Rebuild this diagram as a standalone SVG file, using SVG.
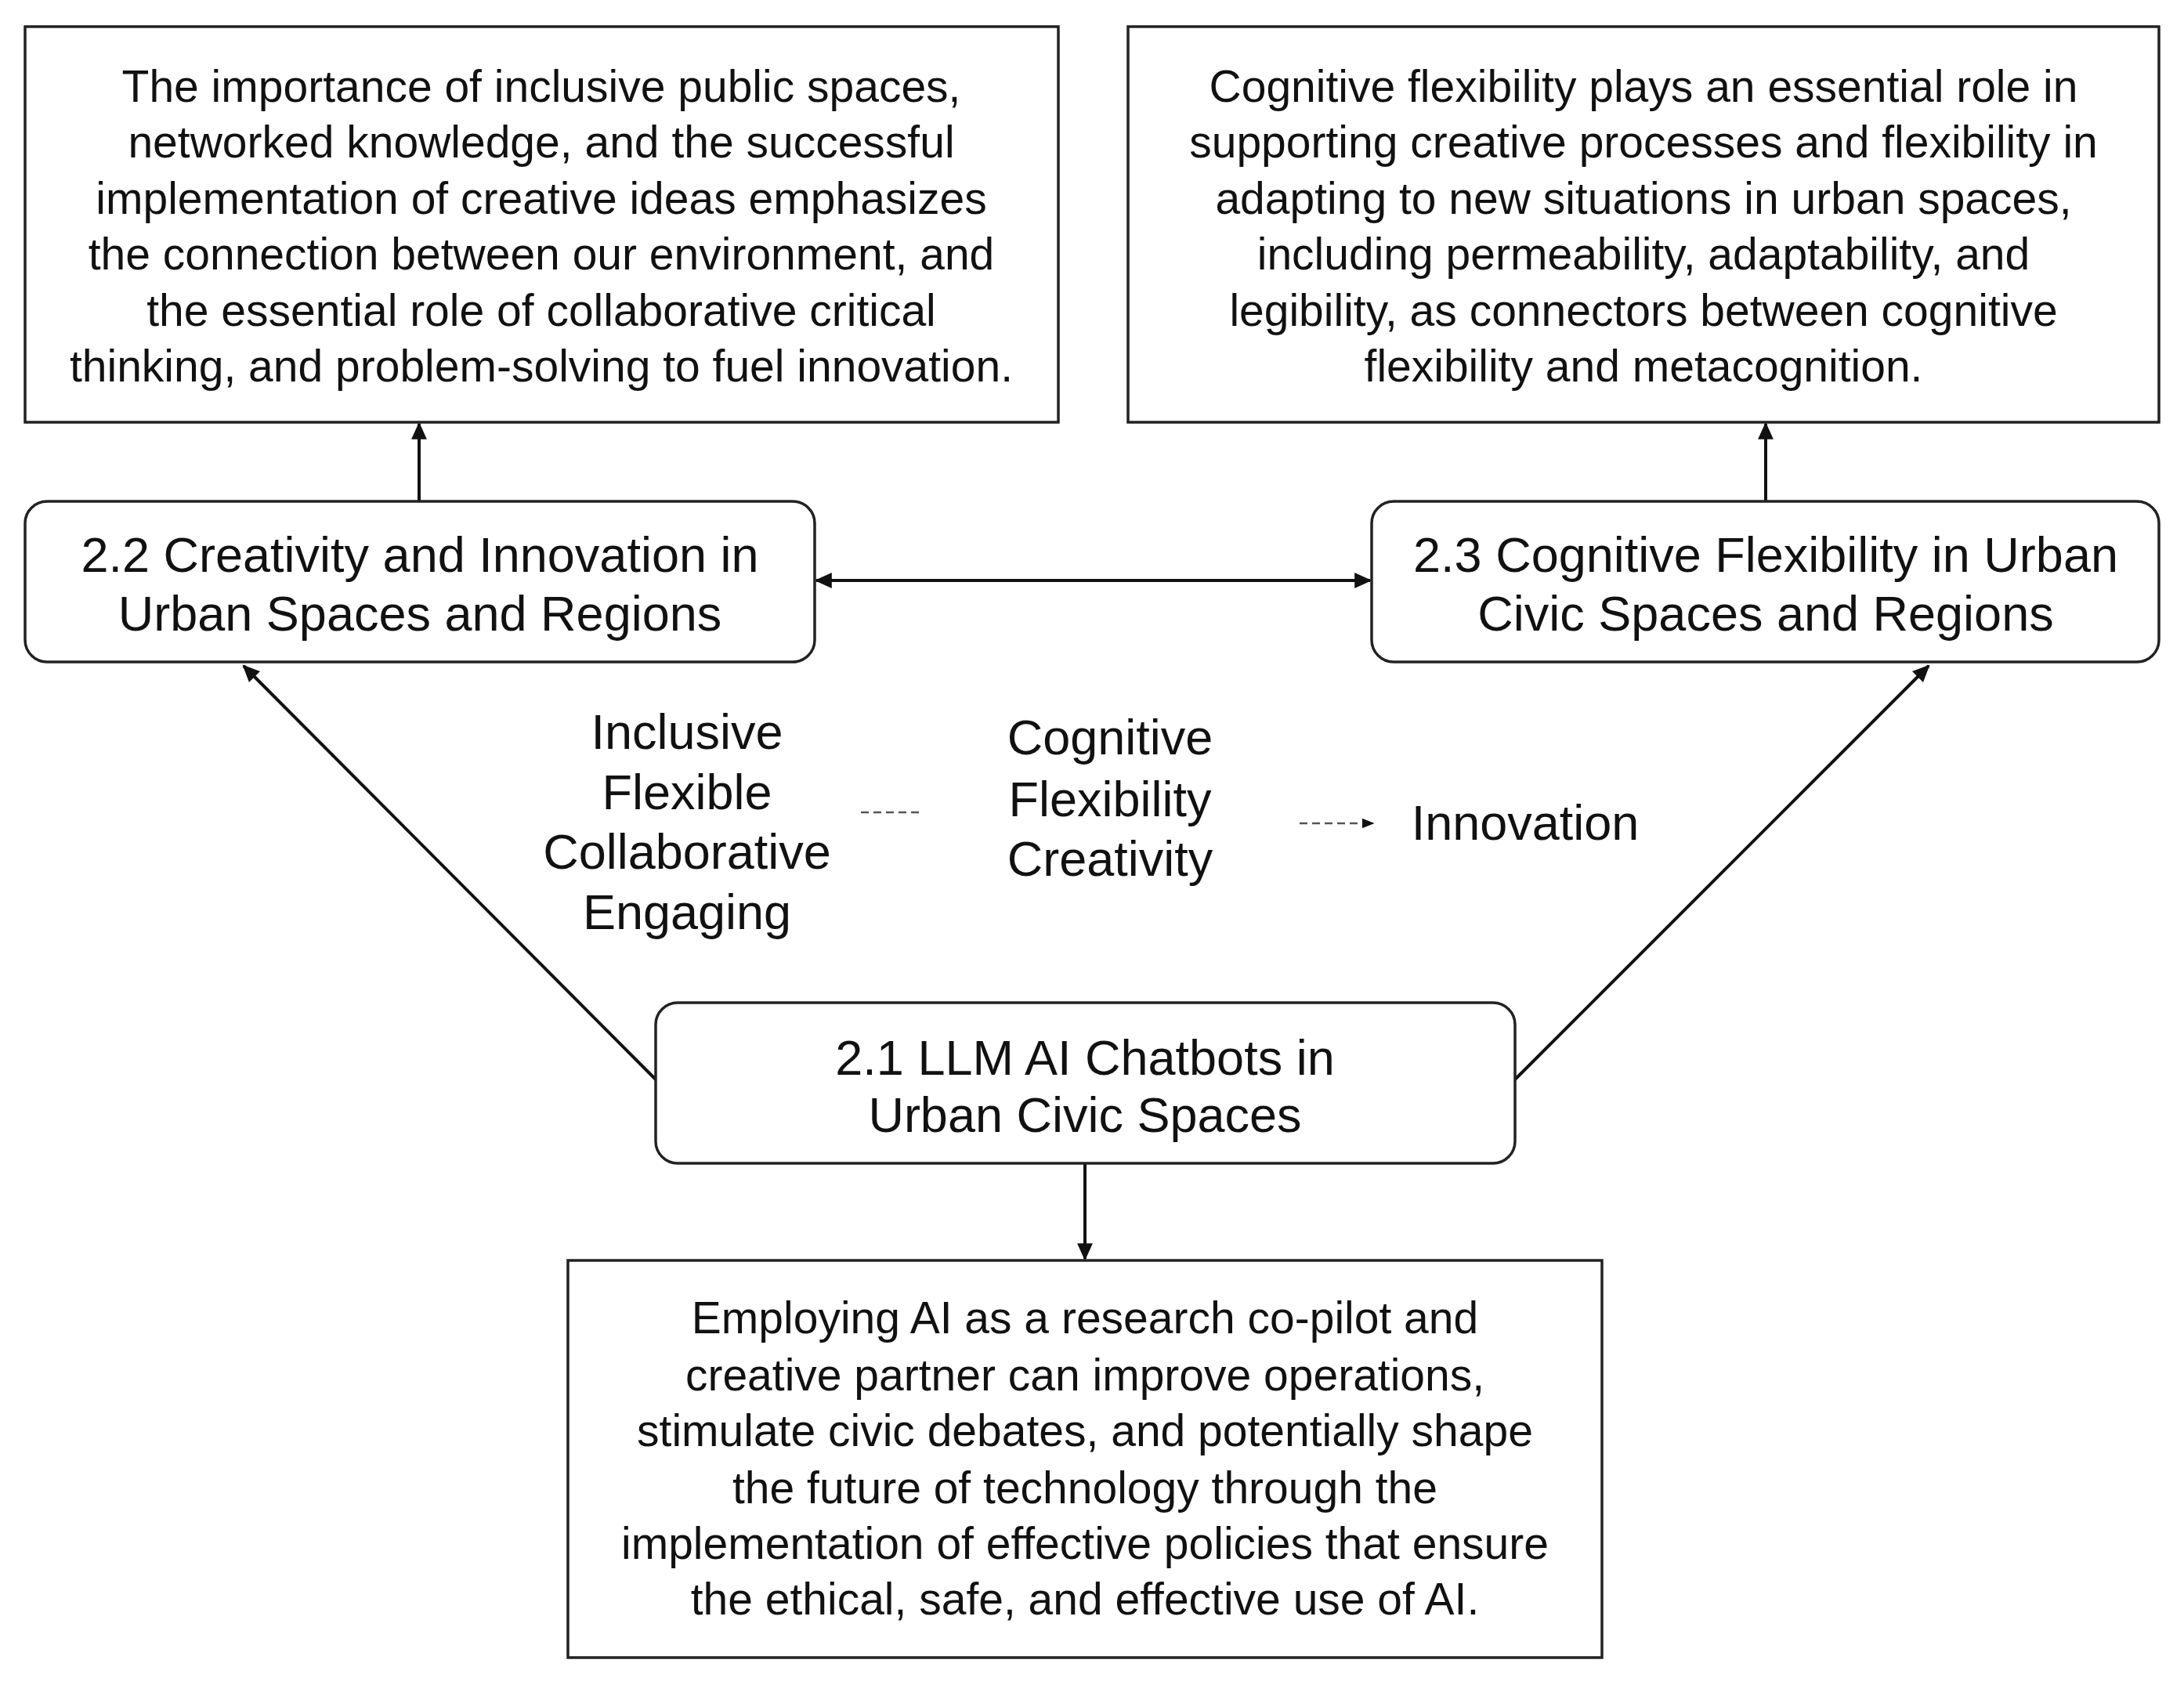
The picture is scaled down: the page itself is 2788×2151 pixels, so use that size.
<svg xmlns="http://www.w3.org/2000/svg" width="2788" height="2151" viewBox="0 0 2788 2151">
<style>
.b{fill:#fff;stroke:#222;stroke-width:3.5}
.t{font-family:"Liberation Sans",Arial,sans-serif;font-size:57px;fill:#111;text-anchor:middle}
.n{font-family:"Liberation Sans",Arial,sans-serif;font-size:63px;fill:#111;text-anchor:middle}
.c{stroke:#111;stroke-width:4;fill:none}
.d{stroke:#555;stroke-width:2.5;fill:none;stroke-dasharray:10 6}
</style>
<defs>
<marker id="a" viewBox="0 0 10 10" refX="9" refY="5" markerWidth="26" markerHeight="22" markerUnits="userSpaceOnUse" orient="auto-start-reverse"><path d="M0,0.5L10,5L0,9.5z" fill="#111"/></marker>
<marker id="s" viewBox="0 0 10 10" refX="9" refY="5" markerWidth="16" markerHeight="16" markerUnits="userSpaceOnUse" orient="auto"><path d="M0,1L10,5L0,9z" fill="#111"/></marker>
</defs>
<rect width="2788" height="2151" fill="#fff"/>
<g id="connectors">
<line class="c" x1="535" y1="640" x2="535" y2="541" marker-end="url(#a)"/>
<line class="c" x1="2254" y1="640" x2="2254" y2="541" marker-end="url(#a)"/>
<line class="c" x1="1042" y1="741" x2="1749" y2="741" marker-start="url(#a)" marker-end="url(#a)"/>
<line class="c" x1="837" y1="1378" x2="311" y2="850" marker-end="url(#a)"/>
<line class="c" x1="1934" y1="1378" x2="2462" y2="850" marker-end="url(#a)"/>
<line class="c" x1="1385" y1="1485" x2="1385" y2="1607" marker-end="url(#a)"/>
<line class="d" x1="1099" y1="1037" x2="1177" y2="1037"/>
<line class="d" x1="1659" y1="1051" x2="1753" y2="1051" marker-end="url(#s)"/>
</g>
<g id="box-tl"><rect class="b" x="32" y="34" width="1319" height="505"/>
<text class="t"><tspan x="691" y="130">The importance of inclusive public spaces,</tspan><tspan x="691" y="201">networked knowledge, and the successful</tspan><tspan x="691" y="273">implementation of creative ideas emphasizes</tspan><tspan x="691" y="344">the connection between our environment, and</tspan><tspan x="691" y="416">the essential role of collaborative critical</tspan><tspan x="691" y="487">thinking, and problem-solving to fuel innovation.</tspan></text></g>
<g id="box-tr"><rect class="b" x="1440" y="34" width="1316" height="505"/>
<text class="t"><tspan x="2098" y="130">Cognitive flexibility plays an essential role in</tspan><tspan x="2098" y="201">supporting creative processes and flexibility in</tspan><tspan x="2098" y="273">adapting to new situations in urban spaces,</tspan><tspan x="2098" y="344">including permeability, adaptability, and</tspan><tspan x="2098" y="416">legibility, as connectors between cognitive</tspan><tspan x="2098" y="487">flexibility and metacognition.</tspan></text></g>
<g id="node-22"><rect class="b" x="32" y="640" width="1008" height="205" rx="28"/>
<text class="n"><tspan x="536" y="730">2.2 Creativity and Innovation in</tspan><tspan x="536" y="805">Urban Spaces and Regions</tspan></text></g>
<g id="node-23"><rect class="b" x="1751" y="640" width="1005" height="205" rx="28"/>
<text class="n"><tspan x="2254" y="730">2.3 Cognitive Flexibility in Urban</tspan><tspan x="2254" y="805">Civic Spaces and Regions</tspan></text></g>
<g id="node-21"><rect class="b" x="837" y="1280" width="1097" height="205" rx="28"/>
<text class="n"><tspan x="1385" y="1372">2.1 LLM AI Chatbots in</tspan><tspan x="1385" y="1445">Urban Civic Spaces</tspan></text></g>
<g id="box-bottom"><rect class="b" x="725" y="1609" width="1320" height="507"/>
<text class="t"><tspan x="1385" y="1702">Employing AI as a research co-pilot and</tspan><tspan x="1385" y="1775">creative partner can improve operations,</tspan><tspan x="1385" y="1846">stimulate civic debates, and potentially shape</tspan><tspan x="1385" y="1919">the future of technology through the</tspan><tspan x="1385" y="1990">implementation of effective policies that ensure</tspan><tspan x="1385" y="2061">the ethical, safe, and effective use of AI.</tspan></text></g>
<g id="words-1"><text class="n"><tspan x="877" y="956">Inclusive</tspan><tspan x="877" y="1033">Flexible</tspan><tspan x="877" y="1109">Collaborative</tspan><tspan x="877" y="1186">Engaging</tspan></text></g>
<g id="words-2"><text class="n"><tspan x="1417" y="963">Cognitive</tspan><tspan x="1417" y="1042">Flexibility</tspan><tspan x="1417" y="1118">Creativity</tspan></text></g>
<g id="words-3"><text class="n" x="1947" y="1072">Innovation</text></g>
</svg>
